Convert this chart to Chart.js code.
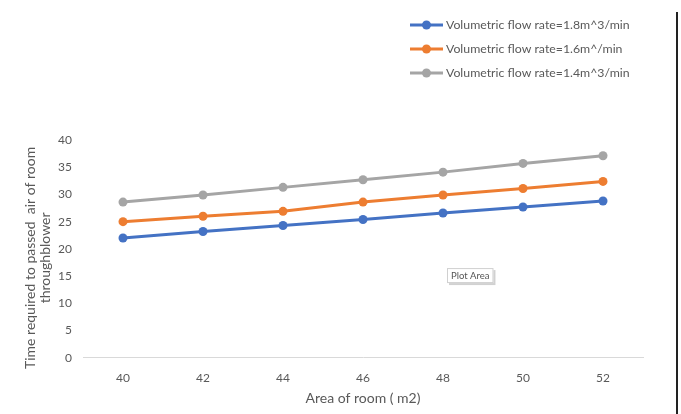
<!DOCTYPE html>
<html>
<head>
<meta charset="utf-8">
<script src="https://cdn.jsdelivr.net/npm/chart.js@4/dist/chart.umd.min.js"></script>
<style>
  html, body { margin: 0; padding: 0; background: #fff; }
  #wrap { position: relative; width: 681px; height: 414px; }
  #edge { position: absolute; left: 676px; top: 12px; width: 2px; height: 402px; background: #222; }
</style>
</head>
<body>
<div id="wrap">
  <canvas id="c" width="681" height="414"></canvas>
  <div id="edge"></div>
</div>
<script>
const categories = ['40', '42', '44', '46', '48', '50', '52'];
const seriesNames = [
  'Volumetric flow rate=1.8m^3/min',
  'Volumetric flow rate=1.6m^/min',
  'Volumetric flow rate=1.4m^3/min'
];
const flow18 = [22.0, 23.2, 24.3, 25.4, 26.6, 27.7, 28.8];
const flow16 = [25.0, 26.0, 26.9, 28.6, 29.9, 31.1, 32.4];
const flow14 = [28.6, 29.9, 31.3, 32.7, 34.1, 35.7, 37.1];
const seriesColors = ['#4472C4', '#ED7D31', '#A5A5A5'];
const yTicks = [0, 5, 10, 15, 20, 25, 30, 35, 40];
const xTitle = 'Area of room ( m2)';
const yTitle = ['Time required to passed  air of room', 'throughblower'];
const plotAreaLabel = 'Plot Area';

const FONT = 'Lato, "Open Sans", sans-serif';
const TEXT = '#595959';

const seriesValues = [flow18, flow16, flow14];

const decorPlugin = {
  id: 'decor',
  afterDraw(chart) {
    const ctx = chart.ctx;
    const a = chart.chartArea;
    ctx.save();
    // legend
    const x0 = chart.width - 271;
    chart.data.datasets.forEach((ds, i) => {
      const y = 25 + i * 24;
      ctx.strokeStyle = ds.borderColor;
      ctx.lineWidth = 3;
      ctx.beginPath();
      ctx.moveTo(x0, y);
      ctx.lineTo(x0 + 33, y);
      ctx.stroke();
      ctx.fillStyle = ds.borderColor;
      ctx.beginPath();
      ctx.arc(x0 + 16.5, y, 4.5, 0, Math.PI * 2);
      ctx.fill();
      ctx.fillStyle = TEXT;
      ctx.font = '12.3px ' + FONT;
      ctx.textBaseline = 'middle';
      ctx.textAlign = 'left';
      ctx.fillText(ds.label, x0 + 36, y + 0.5);
    });
    // y-axis title (two lines, rotated)
    ctx.save();
    ctx.translate(30, (a.top + a.bottom) / 2 + 9);
    ctx.rotate(-Math.PI / 2);
    ctx.fillStyle = TEXT;
    ctx.font = '14px ' + FONT;
    ctx.textAlign = 'center';
    ctx.textBaseline = 'middle';
    yTitle.forEach((line, i) => ctx.fillText(line, 0, i * 15));
    ctx.restore();
    // "Plot Area" hover label
    const bx = a.left + (a.right - a.left) * 0.65;
    const by = a.top + (a.bottom - a.top) * 0.588;
    ctx.font = '9.5px ' + FONT;
    ctx.textAlign = 'left';
    const w = ctx.measureText(plotAreaLabel).width + 8;
    const h = 15;
    ctx.fillStyle = 'rgba(0,0,0,0.18)';
    ctx.fillRect(bx + 2, by + 2, w, h);
    ctx.fillStyle = '#fff';
    ctx.fillRect(bx, by, w, h);
    ctx.strokeStyle = '#d0d0d0';
    ctx.lineWidth = 1;
    ctx.strokeRect(bx + 0.5, by + 0.5, w - 1, h - 1);
    ctx.fillStyle = '#555';
    ctx.textBaseline = 'middle';
    ctx.fillText(plotAreaLabel, bx + 4, by + h / 2 + 0.5);
    ctx.restore();
  }
};

new Chart(document.getElementById('c'), {
  type: 'line',
  data: {
    labels: categories,
    datasets: seriesValues.map((vals, i) => ({
      label: seriesNames[i],
      data: vals,
      borderColor: seriesColors[i],
      backgroundColor: seriesColors[i],
      borderWidth: 3,
      pointRadius: 4.5,
      pointHoverRadius: 4.5,
      pointBorderWidth: 0,
      tension: 0,
      fill: false
    }))
  },
  options: {
    responsive: false,
    animation: false,
    devicePixelRatio: 1,
    layout: { padding: { top: 140, right: 38, bottom: 7, left: 57 } },
    plugins: {
      legend: { display: false },
      tooltip: { enabled: false }
    },
    scales: {
      x: {
        offset: true,
        grid: { display: false, drawTicks: false },
        border: { display: true, color: '#d9d9d9', width: 1 },
        ticks: { color: TEXT, font: { family: FONT, size: 12 }, padding: 13 },
        title: { display: true, text: xTitle, color: TEXT, font: { family: FONT, size: 14 }, padding: { top: -8, bottom: 0 } }
      },
      y: {
        min: 0,
        max: 40,
        afterBuildTicks(axis) { axis.ticks = yTicks.map(v => ({ value: v })); },
        afterFit(axis) { axis.width = 26; },
        grid: { display: false, drawTicks: false },
        border: { display: false },
        ticks: { color: TEXT, font: { family: FONT, size: 12 }, padding: 11 },
        title: { display: false }
      }
    }
  },
  plugins: [decorPlugin]
});
</script>
</body>
</html>
